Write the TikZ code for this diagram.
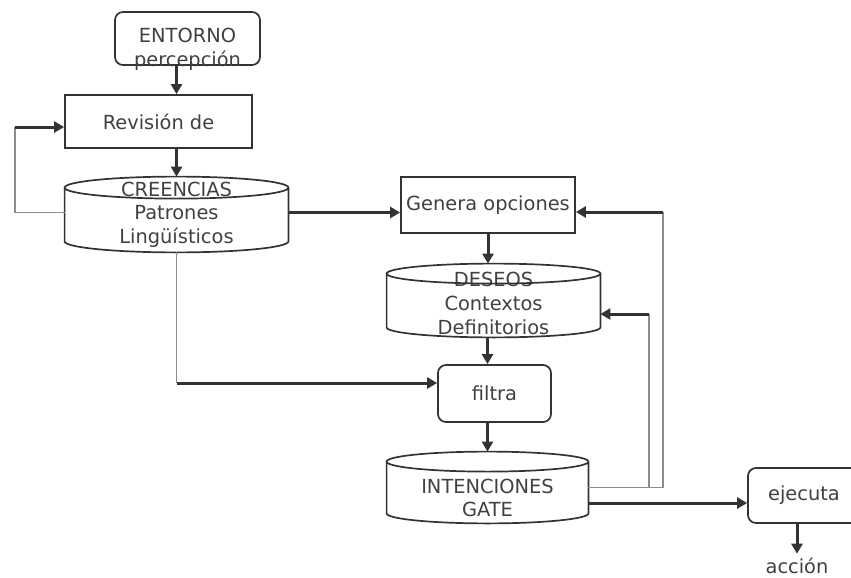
\documentclass[tikz,border=0pt]{standalone}
\usepackage{fontspec}
\setmainfont{DejaVu Sans}
\usetikzlibrary{positioning, arrows.meta, calc}
\definecolor{ink}{HTML}{333333}
\definecolor{txt}{HTML}{404040}
\definecolor{linegray}{HTML}{8C8C8C}

\begin{document}
\begin{tikzpicture}[x=0.5pt, y=-0.5pt, font=\fontsize{9.7}{11.8}\selectfont, text=txt]
    % Define styles
    \tikzstyle{process} = [rectangle, draw=ink, line width=0.85pt, align=center, inner sep=0pt]
    \tikzstyle{rounded} = [process, rounded corners=4pt]
    \tikzstyle{drum} = [rectangle, align=center, inner sep=0pt]
    \tikzstyle{outline} = [draw=ink, line width=0.85pt]
    \tikzstyle{arrow} = [draw=ink, line width=1.5pt, -{Triangle[length=5pt, width=5.5pt]}]
    \tikzstyle{wire} = [draw=linegray, line width=0.75pt]

    \useasboundingbox (0,0) rectangle (851,578);

    % Nodes
    \node (entorno) [rounded, minimum width=72.5pt, minimum height=26.5pt,
        label={[align=center, yshift=-5.5pt]center:ENTORNO\\percepción}] at (187.5,38.5) {};
    \node (revision) [process, minimum width=93.5pt, minimum height=26.5pt] at (158.5,121.5) {Revisión de};
    \node (creencias) [drum, minimum width=111.5pt, minimum height=37.5pt] at (176.5,214.5) {CREENCIAS\\Patrones\\Lingüísticos};
    \node (genera) [process, minimum width=87pt, minimum height=28pt] at (488,205) {\raisebox{-1.5pt}{Genera opciones}};
    \node (deseos) [drum, minimum width=106.5pt, minimum height=36.5pt,
        label={[align=center, yshift=-1.5pt]center:DESEOS\\Contextos\\Definitorios}] at (493.5,300.5) {};
    \node (filtra) [rounded, minimum width=56.5pt, minimum height=28.5pt] at (494.5,393.5) {filtra};
    \node (intenciones) [drum, minimum width=100.5pt, minimum height=35.5pt,
        label={[align=center, yshift=-5.25pt]center:INTENCIONES\\GATE}] at (487.5,487.5) {};
    \node (ejecuta) [rounded, minimum width=56pt, minimum height=27.5pt] at (804,495.5) {\raisebox{-1pt}{ejecuta}};
    \node (accion) [inner sep=2pt] at (797,566) {acción};

    % Drums
    \foreach \d/\r in {creencias/5.5pt, deseos/5pt, intenciones/5pt}{
        \draw [outline] let \p1 = (\d.north west), \p2 = (\d.south east), \n1 = {(\x2-\x1)/2} in
            ([yshift=-\r]\d.north west) -- ([yshift=\r]\d.south west)
            arc [start angle=180, end angle=360, x radius=\n1, y radius=\r]
            -- ([yshift=-\r]\d.north east)
            ([yshift=-\r]\d.north) ellipse [x radius=\n1, y radius=\r];
    }

    % Corners
    \coordinate (loopback) at (15,127);
    \coordinate (tofiltra) at (176.5,383);
    \coordinate (backgen) at (663,212);
    \coordinate (backdes) at (649,314);

    % Arrows
    \draw [arrow] (entorno.south -| creencias.north) -- (revision.north -| creencias.north);
    \draw [arrow] (revision.south -| creencias.north) -- (creencias.north);
    \draw [wire] ([yshift=1pt]creencias.west) -| (loopback);
    \draw [arrow] (loopback) -- (loopback -| revision.west);
    \draw [arrow] ([yshift=1pt]creencias.east) -- ([yshift=1pt]creencias.east -| genera.west);
    \draw [arrow] (genera.south) -- (genera.south |- deseos.north);
    \draw [arrow] (deseos.south -| intenciones) -- (filtra.north -| intenciones);
    \draw [wire] (creencias.south) -- (tofiltra);
    \draw [arrow] (tofiltra) -- (tofiltra -| filtra.west);
    \draw [arrow] (filtra.south -| intenciones) -- (intenciones.north);
    \draw [wire] (intenciones.east) -| (backgen);
    \draw [arrow] (backgen) -- (backgen -| genera.east);
    \draw [wire] (intenciones.east) -| (backdes);
    \draw [arrow] (backdes) -- (backdes -| deseos.east);
    \draw [arrow] ([yshift=-7.75pt]intenciones.east) coordinate (toexec) -- (toexec -| ejecuta.west);
    \draw [arrow] (ejecuta.south -| accion) -- (accion.north);
\end{tikzpicture}
\end{document}
